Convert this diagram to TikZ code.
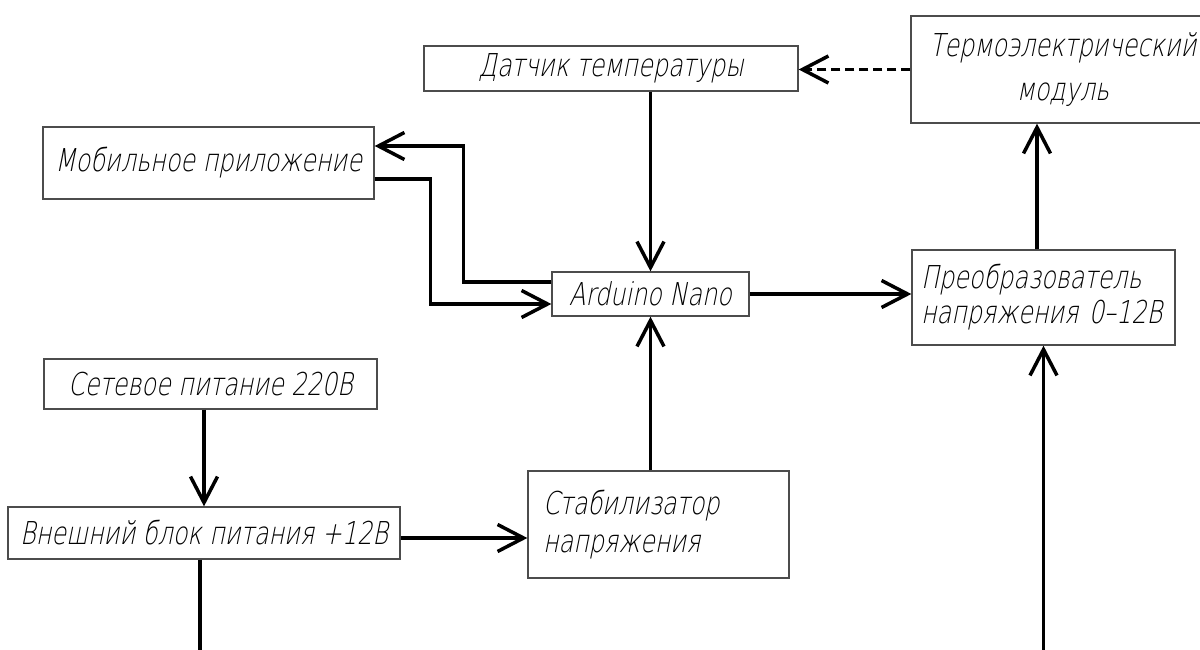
\documentclass[tikz,border=0pt]{standalone}
\usepackage{fontspec}
\IfFontExistsTF{DejaVuSans-ExtraLight.ttf}
 {\newfontfamily\gostfont{DejaVuSans-ExtraLight.ttf}[FakeSlant=0.2,FakeStretch=0.76]\def\gostsize{\fontsize{31.5pt}{36pt}\selectfont}}
 {\newfontfamily\gostfont{Liberation Sans}[FakeSlant=0.2,FakeStretch=0.84]\def\gostsize{\fontsize{32pt}{36pt}\selectfont}}
\usetikzlibrary{arrows.meta,calc}
\begin{document}
\begin{tikzpicture}[x=1pt,y=-1pt,
  box/.style={draw=black!70, line width=1.3pt, rectangle, inner sep=0pt,
              font=\gostfont\gostsize, align=center},
  conn/.style={line width=3.5pt, black},
  arr/.style={conn, -{Straight Barb[length=26pt,width=27pt]}},
]
\useasboundingbox[fill=white] (0,0) rectangle (1200,650);

\node[box, minimum width=374pt, minimum height=45pt] (dat) at (611,68.5) {Датчик температуры};
\node[box, minimum width=304pt, minimum height=107pt] (termo) at (1063,69.5) {Термоэлектрический\\[8pt]модуль};
\node[box, minimum width=331pt, minimum height=72pt] (mob) at (208.5,163) {Мобильное приложение};
\node[box, minimum width=197pt, minimum height=44pt] (ard) at (650.5,294) {Arduino Nano};
\node[box, minimum width=263pt, minimum height=95pt, align=left, text width=245pt] (conv) at (1043.5,297.5) {Преобразователь\\[-1pt]напряжения 0–12В};
\node[box, minimum width=333pt, minimum height=50pt] (net) at (210.5,384) {Сетевое питание 220В};
\node[box, minimum width=392pt, minimum height=52pt] (ext) at (204,533) {Внешний блок питания +12В};
\node[box, minimum width=261pt, minimum height=107pt, align=left, text width=231pt] (stab) at (658.5,524.5) {Стабилизатор\\[2pt]напряжения};

% connectors
\draw[conn, dash pattern=on 9pt off 5pt, -{Straight Barb[length=26pt,width=27pt]}] (termo.west) -- (termo.west -| dat.east);
\draw[arr] (ard.north |- dat.south) -- (ard.north);
\draw[arr] ($(ard.west)+(0,-12)$) -| ($(mob.east)+(89,-17)$) -- ($(mob.east)+(0,-17)$);
\draw[arr] ($(mob.east)+(0,16)$) -| ($(ard.west)+(-121,10)$) -- ($(ard.west)+(0,10)$);
\draw[arr] (ard.east) -- (ard.east -| conv.west);
\coordinate (c1) at ($(conv.north)+(-6.5,0)$);
\draw[arr] (c1) -- (c1 |- termo.south);
\draw[arr] (ard.south |- stab.north) -- (ard.south);
\draw[arr] (ext.north |- net.south) -- (ext.north);
\coordinate (e1) at ($(ext.east)+(0,5)$);
\draw[arr] (e1) -- (e1 -| stab.west);
\coordinate (b1) at (200,652);
\draw[conn] (ext.south -| b1) -- (b1);
\coordinate (b2) at (1043.5,652);
\draw[arr] (b2) -- (conv.south);
\end{tikzpicture}
\end{document}
